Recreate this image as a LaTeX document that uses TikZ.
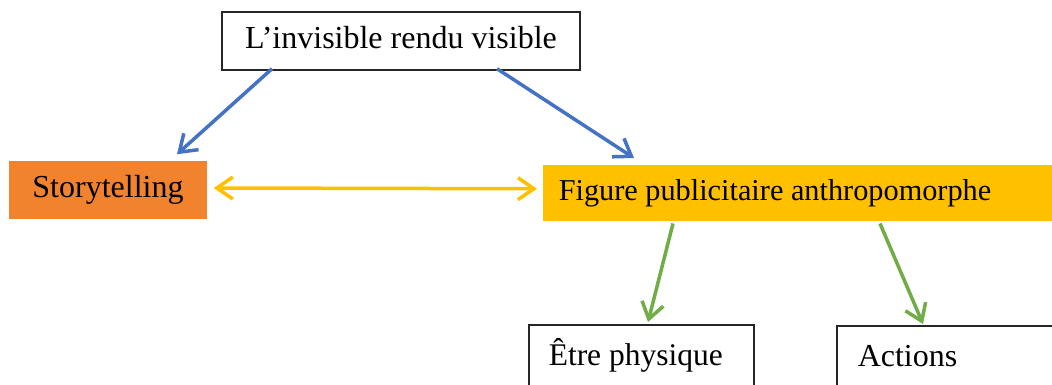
\documentclass[tikz,border=0pt]{standalone}
\usepackage{fontspec}
\setmainfont{Liberation Serif}
\usetikzlibrary{arrows.meta}

\definecolor{orangeST}{RGB}{241,130,46}
\definecolor{jauneFP}{RGB}{255,192,0}
\definecolor{bleuF}{RGB}{68,114,196}
\definecolor{vertF}{RGB}{112,173,71}

\tikzset{
    boite/.style={draw=black!85, line width=1.5pt, inner sep=0pt,
        font=\fontsize{32}{38}\selectfont, text height=22pt, text depth=7pt},
    boitepleine/.style={boite, draw=none},
    fleche/.style={line width=3.5pt, -{Straight Barb[length=16pt,width=22pt]}},
    doublefleche/.style={line width=3.5pt,
        {Straight Barb[length=16pt,width=22pt]}-{Straight Barb[length=16pt,width=22pt]}}
}

\begin{document}
\begin{tikzpicture}[x=1pt, y=1pt]
    \useasboundingbox (0,0) rectangle (1052,-385);
    \clip (0,0) rectangle (1052,-385);

    % Boxes
    \node [boite, minimum width=358pt, minimum height=58pt] (invis) at (401,-41)
        {L’invisible rendu visible};
    \node [boitepleine, fill=orangeST, minimum width=198pt, minimum height=58pt] (story) at (108,-190)
        {Storytelling};
    \node [boitepleine, fill=jauneFP, anchor=north west, minimum height=56pt,
        font=\fontsize{30.3}{36}\selectfont,
        inner xsep=16pt, text width=500pt, align=flush left] (figure) at (542,-164)
        {Figure publicitaire anthropomorphe};
    \node [boite, anchor=north west, inner xsep=20pt, inner ysep=19pt,
        font=\fontsize{31.5}{38}\selectfont,
        text width=185pt, align=flush left] (etre) at (528,-324)
        {Être physique};
    \node [boite, anchor=north west, inner xsep=21pt, inner ysep=19pt,
        text width=250pt, align=flush left] (actions) at (836,-325)
        {Actions};

    % Blue arrows
    \draw [fleche, bleuF] ([xshift=-129pt,yshift=2pt]invis.south) -- ([xshift=69pt,yshift=6pt]story.north);
    \draw [fleche, bleuF] ([xshift=96pt,yshift=2pt]invis.south) -- ([xshift=92pt,yshift=6pt]figure.north west);

    % Yellow link
    \draw [doublefleche, jauneFP] ([xshift=6pt,yshift=2pt]story.east) -- ([xshift=-5pt,yshift=4pt]figure.west);

    % Green arrows
    \draw [fleche, vertF] ([xshift=131pt,yshift=-2pt]figure.south west) -- ([xshift=120pt,yshift=2pt]etre.north west);
    \draw [fleche, vertF] ([xshift=338pt,yshift=-2pt]figure.south west) -- ([xshift=87pt,yshift=1pt]actions.north west);
\end{tikzpicture}
\end{document}
